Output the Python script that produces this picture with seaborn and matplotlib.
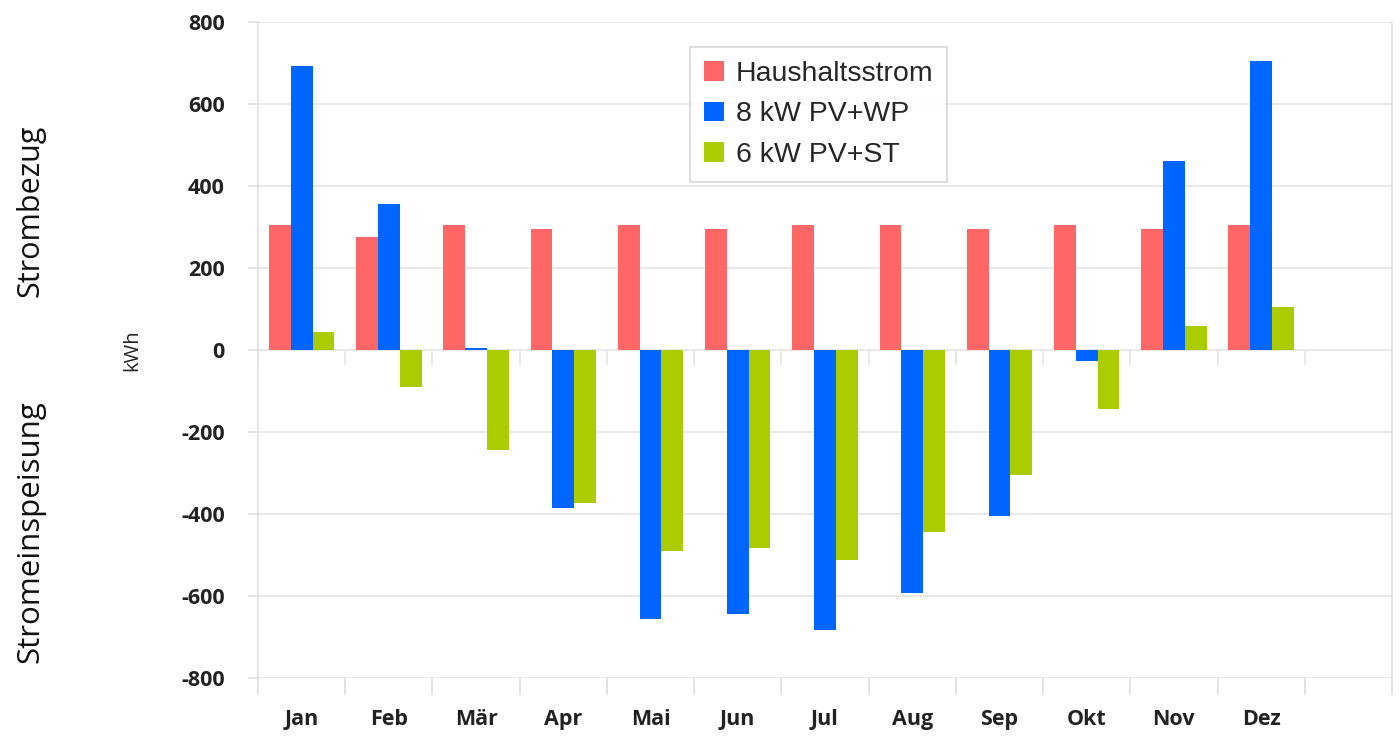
import matplotlib
matplotlib.use("Agg")
import matplotlib.pyplot as plt
import seaborn as sns
import pandas as pd
import numpy as np

months = ["Jan", "Feb", "Mär", "Apr", "Mai", "Jun", "Jul", "Aug", "Sep", "Okt", "Nov", "Dez"]
series_names = ["Haushaltsstrom", "8 kW PV+WP", "6 kW PV+ST"]
haushalt = [305, 275, 305, 295, 305, 295, 305, 305, 295, 305, 295, 305]
pv_wp = [692, 357, 5, -385, -655, -645, -682, -592, -406, -27, 460, 706]
pv_st = [45, -90, -244, -373, -490, -484, -511, -444, -304, -144, 58, 105]
colors = ["#ff6666", "#0066ff", "#aacc00"]
yticks = [-800, -600, -400, -200, 0, 200, 400, 600, 800]

df = pd.DataFrame({
    "Monat": months * 3,
    "Serie": sum([[s] * 12 for s in series_names], []),
    "kWh": haushalt + pv_wp + pv_st,
})

sns.set_theme(style="white")
plt.rcParams["font.family"] = ["Open Sans", "DejaVu Sans"]

fig = plt.figure(figsize=(14, 7.44), dpi=100)
ax = fig.add_axes([258 / 1400, 1 - 678 / 744, (1392 - 258) / 1400, (678 - 22) / 744])

order = months + [" "]
sns.barplot(data=df, x="Monat", y="kWh", hue="Serie", order=order,
            hue_order=series_names, palette=colors, width=0.75,
            saturation=1, linewidth=0, ax=ax, legend=True)

ax.set_xlim(-0.5, 12.5)
ax.set_ylim(-800, 800)
ax.set_yticks(yticks)
ax.set_yticklabels([str(v) for v in yticks], fontsize=15.5, fontweight="bold", color="#222222")
ax.yaxis.grid(True, color="#e4e4e4", linewidth=1.2)
ax.set_axisbelow(True)

ax.set_xticks(range(12))
ax.set_xticklabels(months, fontsize=15.5, fontweight="bold", color="#222222")
ax.tick_params(axis="x", which="major", length=0, pad=22, bottom=True)
ax.set_xticks(np.arange(-0.5, 13, 1), minor=True)
ax.tick_params(axis="x", which="minor", length=12, color="#dddddd", width=1.2,
               direction="out", bottom=True)
ax.tick_params(axis="y", length=7, color="#dddddd", width=1.2, direction="out", pad=17, left=True)

for sp in ["top", "bottom"]:
    ax.spines[sp].set_visible(False)
for sp in ["left", "right"]:
    ax.spines[sp].set_color("#e0e0e0")
    ax.spines[sp].set_linewidth(1.2)

# small ticks hanging from the zero line at category boundaries
ax.vlines(np.arange(-0.5, 13, 1), -36, 0, color="#e4e4e4", linewidth=1.2, zorder=0)

ax.set_xlabel("")
ax.set_ylabel("kWh", fontsize=14.5, color="#222222", labelpad=28)

leg = ax.legend(loc="upper left", bbox_to_anchor=((690 - 258) / 1134, 1 - (47 - 22) / 656),
                frameon=True, fancybox=False, edgecolor="#cccccc",
                handlelength=0.7, handleheight=0.7, handletextpad=0.4,
                labelspacing=0.5, borderpad=0.5, borderaxespad=0,
                prop={"family": "Liberation Sans", "size": 20.5})
leg.get_frame().set_linewidth(1.2)

fig.text(0.022, 1 - 211 / 744, "Strombezug", rotation=90, fontsize=22,
         ha="center", va="center", color="#111111")
fig.text(0.022, 1 - 532 / 744, "Stromeinspeisung", rotation=90, fontsize=22.5,
         ha="center", va="center", color="#111111")

fig.savefig("out.png", dpi=100, facecolor="white")
